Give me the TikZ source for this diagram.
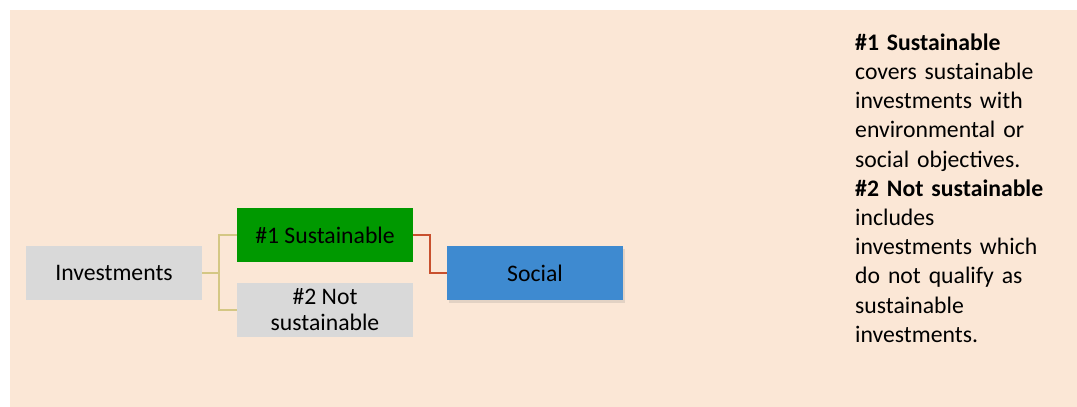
\documentclass[tikz,border=0pt]{standalone}
\usepackage{xcolor}
\usepackage{fontspec}
\setmainfont{Carlito}
\usepackage{tikz}
\usetikzlibrary{positioning,calc,shadows}

\definecolor{peach}{HTML}{FBE7D6}
\definecolor{boxgray}{HTML}{D9D9D9}
\definecolor{susgreen}{HTML}{009900}
\definecolor{socblue}{HTML}{3E8AD0}
\definecolor{khaki}{HTML}{D4C784}
\definecolor{rust}{HTML}{C8502E}

\begin{document}
\begin{tikzpicture}[x=1pt, y=-1pt,
        box/.style={rectangle, minimum width=176pt, minimum height=54pt, inner sep=0pt,
            align=center, font=\fontsize{23.7}{26}\selectfont},
        graybox/.style={box, fill=boxgray},
        greenbox/.style={box, fill=susgreen},
        bluebox/.style={box, fill=socblue, drop shadow={shadow xshift=2pt, shadow yshift=-2.5pt, opacity=0.2}},
        link/.style={draw=khaki, line width=1.6pt},
        sublink/.style={draw=rust, line width=2pt}]
        \useasboundingbox (0,0) rectangle (1077,407);
        \fill[white] (0,0) rectangle (1077,407);
        \fill[peach] (10,10) rectangle (1077,407);

        \node[graybox] (inv) at (114,273) {Investments};
        \node[greenbox] (sus) at (325,235) {\#1 Sustainable};
        \node[graybox] (notsus) at (325,310) {\#2 Not\\sustainable};
        \node[bluebox] (soc) at (535,273) {Social};

        \draw[link] (inv.east) -- ++(17,0) |- (sus.west);
        \draw[link] (inv.east) -- ++(17,0) |- (notsus.west);
        \draw[sublink] (sus.east) -- ++(17,0) |- (soc.west);

        \node[anchor=north west, inner sep=0pt, text width=215pt, align=left,
            font=\fontsize{23.7}{29.2}\selectfont] (notes) at (855,29.7) {%
            \strut\textbf{\#1 Sustainable}\\
            covers sustainable\\
            investments with\\
            environmental or\\
            social objectives.\\
            \textbf{\#2 Not sustainable}\\
            includes\\
            investments which\\
            do not qualify as\\
            sustainable\\
            investments.};
    \end{tikzpicture}
\end{document}
